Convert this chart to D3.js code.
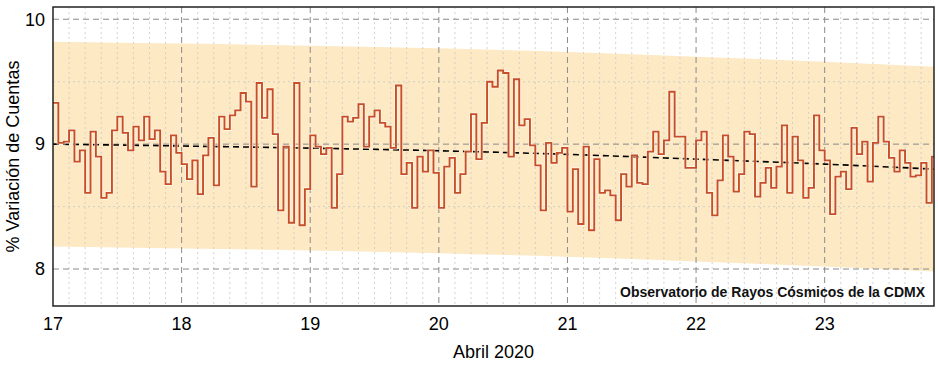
<!DOCTYPE html>
<meta charset="utf-8">

<!-- Load d3.js -->
<script src="https://d3js.org/d3.v7.min.js"></script>

<style>
    body {
        margin: 0;
        background: white;
    }

    text {
        font-family: 'Liberation Sans', Arial, sans-serif;
    }

    .tick-label {
        font-size: 18px;
        fill: #000;
    }

    .axis-title {
        font-size: 18px;
        fill: #000;
    }

    .credit {
        font-size: 14px;
        font-weight: bold;
        fill: #111;
    }
</style>

<div id="my_dataviz"></div>

<script>
    // hourly counts variation, starting 17 April 2020 00:00
    const hourlyValues = [
        9.33, 9.01, 9.02, 9.11, 8.86, 8.95, 8.61, 9.10, 8.90, 8.57, 8.61, 9.11,
        9.22, 9.09, 8.95, 9.14, 9.03, 9.22, 9.04, 9.11, 8.78, 8.68, 9.07, 8.93,
        8.84, 8.72, 8.87, 8.60, 8.91, 9.05, 8.67, 9.22, 9.12, 9.23, 9.27, 9.41,
        9.34, 8.66, 9.49, 9.21, 9.44, 9.08, 8.47, 8.98, 8.37, 9.49, 8.35, 8.64,
        9.07, 8.98, 8.92, 8.97, 8.49, 8.76, 9.22, 9.18, 9.21, 9.32, 8.98, 9.22,
        9.27, 9.17, 9.14, 8.97, 9.47, 8.76, 8.85, 8.49, 8.90, 8.78, 8.95, 8.77,
        8.49, 8.82, 8.89, 8.61, 8.76, 8.94, 9.24, 8.88, 9.17, 9.50, 9.46, 9.59,
        9.57, 8.90, 9.52, 9.15, 9.20, 8.99, 8.83, 8.47, 9.01, 8.85, 8.93, 8.97,
        8.46, 8.80, 8.36, 8.98, 8.31, 8.88, 8.61, 8.63, 8.59, 8.39, 8.76, 8.66,
        8.91, 8.69, 8.68, 8.94, 9.10, 8.92, 9.03, 9.42, 9.06, 9.06, 8.81, 8.81,
        9.03, 9.10, 8.61, 8.43, 8.71, 9.07, 8.90, 8.62, 8.76, 9.10, 9.08, 8.58,
        8.69, 8.81, 8.65, 8.82, 9.15, 8.61, 9.06, 8.87, 8.57, 8.65, 9.23, 8.95,
        8.87, 8.44, 8.74, 8.78, 8.64, 9.13, 8.92, 9.02, 8.70, 9.01, 9.22, 9.02,
        8.89, 8.78, 8.95, 8.85, 8.74, 8.75, 8.85, 8.53, 8.90
    ];
    const startDay = 17;

    // trend and confidence band, sampled per day
    const trendDays = [17, 18, 19, 20, 21, 22, 23, 23.85];
    const trendValues = [9.00, 8.985, 8.968, 8.947, 8.918, 8.880, 8.840, 8.80];
    const bandUpper = [9.82, 9.805, 9.788, 9.767, 9.738, 9.700, 9.660, 9.62];
    const bandLower = [8.18, 8.165, 8.148, 8.127, 8.098, 8.060, 8.020, 7.98];

    const xTicks = [17, 18, 19, 20, 21, 22, 23];
    const yTicks = [8, 9, 10];
    const yMinorTicks = [8.5, 9.5];

    const xTitle = "Abril 2020";
    const yTitle = "% Variación de Cuentas";
    const credit = "Observatorio de Rayos Cósmicos de la CDMX";

    const line_color = '#c74e27';
    const band_color = '#fde9c3';

    // set the dimensions and margins of the graph
    let margin = {top: 7, right: 4, bottom: 61, left: 53},
        width = 938 - margin.left - margin.right,
        height = 367 - margin.top - margin.bottom;

    let svg = d3.select("#my_dataviz")
        .append("svg")
        .attr("width", 938)
        .attr("height", 367)
        .append("g")
        .attr("transform", "translate(" + margin.left + "," + margin.top + ")");

    let x = d3.scaleLinear()
        .domain([startDay, 23.85])
        .range([0, width]);

    let y = d3.scaleLinear()
        .domain([7.704, 10.098])
        .range([height, 0]);

    svg.append("clipPath")
        .attr("id", "plot-clip")
        .append("rect")
        .attr("width", width)
        .attr("height", height);

    let plot = svg.append("g")
        .attr("clip-path", "url(#plot-clip)");

    // band
    let bandData = trendDays.map(function (d, i) {
        return {t: d, lo: bandLower[i], hi: bandUpper[i]};
    });

    plot.append("path")
        .datum(bandData)
        .attr("fill", band_color)
        .attr("d", d3.area()
            .curve(d3.curveMonotoneX)
            .x(function (d) { return x(d.t); })
            .y0(function (d) { return y(d.lo); })
            .y1(function (d) { return y(d.hi); }));

    // minor grid every 3 hours
    let minorX = d3.range(startDay * 8, 23.85 * 8)
        .map(function (k) { return k / 8; })
        .filter(function (d) { return Math.abs(d - Math.round(d)) > 1e-6; });

    plot.selectAll("minorx")
        .data(minorX)
        .enter()
        .append("line")
        .attr("x1", function (d) { return x(d); })
        .attr("x2", function (d) { return x(d); })
        .attr("y1", 0)
        .attr("y2", height)
        .style("stroke", "#c8c8c8")
        .style("stroke-opacity", 0.8)
        .style("stroke-dasharray", "2,3");

    plot.selectAll("minory")
        .data(yMinorTicks)
        .enter()
        .append("line")
        .attr("x1", 0)
        .attr("x2", width)
        .attr("y1", function (d) { return y(d); })
        .attr("y2", function (d) { return y(d); })
        .style("stroke", "#c8c8c8")
        .style("stroke-opacity", 0.8)
        .style("stroke-dasharray", "2,3");

    // major grid
    plot.selectAll("majorx")
        .data(xTicks.slice(1))
        .enter()
        .append("line")
        .attr("x1", function (d) { return x(d); })
        .attr("x2", function (d) { return x(d); })
        .attr("y1", 0)
        .attr("y2", height)
        .style("stroke", "#8a8a8a")
        .style("stroke-dasharray", "6,4");

    plot.selectAll("majory")
        .data(yTicks)
        .enter()
        .append("line")
        .attr("x1", 0)
        .attr("x2", width)
        .attr("y1", function (d) { return y(d); })
        .attr("y2", function (d) { return y(d); })
        .style("stroke", "#8a8a8a")
        .style("stroke-dasharray", "6,4");

    // trend
    plot.append("path")
        .datum(trendDays.map(function (d, i) { return {t: d, v: trendValues[i]}; }))
        .attr("fill", "none")
        .attr("stroke", "#000")
        .attr("stroke-width", 1.6)
        .attr("stroke-dasharray", "6,4")
        .attr("d", d3.line()
            .curve(d3.curveMonotoneX)
            .x(function (d) { return x(d.t); })
            .y(function (d) { return y(d.v); }));

    // hourly steps
    let stepPoints = [];
    hourlyValues.forEach(function (v, i) {
        stepPoints.push({t: startDay + i / 24, v: v});
        stepPoints.push({t: startDay + (i + 1) / 24, v: v});
    });

    plot.append("path")
        .datum(stepPoints)
        .attr("fill", "none")
        .attr("stroke", "#fff")
        .attr("stroke-opacity", 0.6)
        .attr("stroke-width", 3.5)
        .attr("d", d3.line()
            .x(function (d) { return x(d.t); })
            .y(function (d) { return y(d.v); }));

    plot.append("path")
        .datum(stepPoints)
        .attr("fill", "none")
        .attr("stroke", line_color)
        .attr("stroke-width", 1.9)
        .attr("d", d3.line()
            .x(function (d) { return x(d.t); })
            .y(function (d) { return y(d.v); }));

    // frame
    svg.append("rect")
        .attr("width", width)
        .attr("height", height)
        .attr("fill", "none")
        .attr("stroke", "#222")
        .attr("stroke-width", 1.5);

    // tick labels
    svg.selectAll("xlabel")
        .data(xTicks)
        .enter()
        .append("text")
        .attr("class", "tick-label")
        .attr("x", function (d) { return x(d); })
        .attr("y", height + 24)
        .attr("text-anchor", "middle")
        .text(function (d) { return d; });

    svg.selectAll("ylabel")
        .data(yTicks)
        .enter()
        .append("text")
        .attr("class", "tick-label")
        .attr("x", -8)
        .attr("y", function (d) { return y(d); })
        .attr("dy", "0.35em")
        .attr("text-anchor", "end")
        .text(function (d) { return d; });

    svg.append("text")
        .attr("class", "axis-title")
        .attr("x", width / 2)
        .attr("y", height + 52)
        .attr("text-anchor", "middle")
        .text(xTitle);

    svg.append("text")
        .attr("class", "axis-title")
        .attr("transform", "translate(" + (-34) + "," + (height / 2) + ") rotate(-90)")
        .attr("text-anchor", "middle")
        .text(yTitle);

    svg.append("text")
        .attr("class", "credit")
        .attr("x", width - 9)
        .attr("y", height - 9)
        .attr("text-anchor", "end")
        .text(credit);
</script>
